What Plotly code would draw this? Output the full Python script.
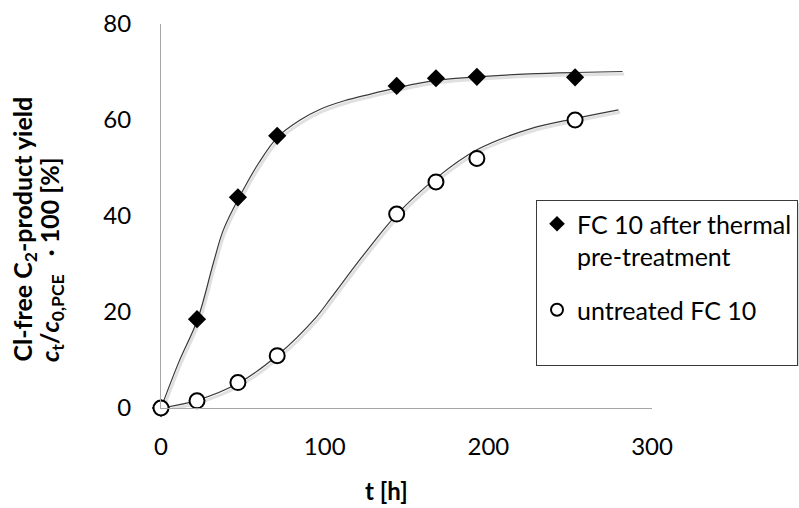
import plotly.graph_objects as go

# measured data points
t_treated = [0, 22, 47, 71, 144, 168, 193, 253]
y_treated = [0, 18.5, 43.9, 56.7, 67.1, 68.7, 69.0, 68.9]
t_untreated = [0, 22, 47, 71, 144, 168, 193, 253]
y_untreated = [0, 1.5, 5.3, 10.9, 40.4, 47.1, 52.0, 60.0]

# fitted curves
fit_t_treated = [0, 10.7, 22.4, 32, 38, 47.8, 60, 71.4, 85, 97, 112, 128, 144, 158, 175, 193, 225, 253, 282]
fit_y_treated = [0, 9.4, 18.5, 30.2, 37.0, 43.9, 51.2, 56.5, 60.0, 62.2, 64.0, 65.4, 66.7, 67.7, 68.5, 69.0, 69.6, 69.9, 70.1]
fit_t_untreated = [0, 22, 47.4, 71.2, 95, 104, 124, 144, 168.5, 193, 225, 253, 279.5]
fit_y_untreated = [0, 1.6, 5.2, 11.0, 19.0, 23.0, 32.0, 40.3, 48.0, 53.8, 58.1, 60.3, 62.1]

x_ticks = [0, 100, 200, 300]
y_ticks = [0, 20, 40, 60, 80]

FONT = "Lato"
L, R, T, B = 161, 147, 24, 100
PW, PH = 799 - L - R, 508 - T - B


def px_x(p):
    return (p - L) / PW


def px_y(p):
    return (508 - B - p) / PH


fig = go.Figure()

for ft, fy in [(fit_t_treated, fit_y_treated), (fit_t_untreated, fit_y_untreated)]:
    fig.add_trace(go.Scatter(x=[v + 1.0 for v in ft], y=[v - 0.5 for v in fy], mode="lines",
                             line=dict(color="rgba(0,0,0,0.12)", width=3, shape="spline"),
                             showlegend=False, hoverinfo="skip"))
    fig.add_trace(go.Scatter(x=ft, y=fy, mode="lines",
                             line=dict(color="#3a3a3a", width=1.2, shape="spline"),
                             showlegend=False, hoverinfo="skip"))

fig.add_trace(go.Scatter(x=t_treated, y=y_treated, mode="markers", cliponaxis=False,
                         name="FC 10 after thermal<br>pre-treatment", legendgroup="a",
                         marker=dict(symbol="diamond", size=14, color="black")))
fig.add_trace(go.Scatter(x=t_untreated, y=y_untreated, mode="markers", cliponaxis=False,
                         name="untreated FC 10<br> ", legendgroup="b",
                         marker=dict(symbol="circle", size=15, color="white",
                                     line=dict(color="black", width=2))))

# soft shadow of the legend box
fig.add_shape(type="rect", xref="paper", yref="paper",
              x0=px_x(540), x1=px_x(830), y0=px_y(366), y1=px_y(203),
              fillcolor="rgba(0,0,0,0.14)", line=dict(width=0), layer="above")

fig.update_layout(
    width=799, height=508,
    margin=dict(l=L, r=R, t=T, b=B, autoexpand=False),
    paper_bgcolor="white", plot_bgcolor="white",
    font=dict(family=FONT, size=24, color="black"),
    showlegend=True,
    legend=dict(x=px_x(536), y=px_y(200), xanchor="left", yanchor="top",
                bgcolor="white", bordercolor="#3a3a3a", borderwidth=1,
                font=dict(family=FONT, size=25, color="black"),
                valign="top", traceorder="grouped", tracegroupgap=18,
                itemsizing="constant"),
    xaxis=dict(range=[0, 300], tickvals=x_ticks, showgrid=False, zeroline=False,
               showline=True, linecolor="#a6a6a6", linewidth=1, ticks="",
               ticklabelstandoff=17, tickfont=dict(size=24)),
    yaxis=dict(range=[0, 80], tickvals=y_ticks, showgrid=False, zeroline=False,
               showline=True, linecolor="#a6a6a6", linewidth=1, ticks="",
               ticklabelstandoff=24, tickfont=dict(size=24)),
    annotations=[
        dict(text="<b>t [h]</b>", xref="paper", yref="paper", x=px_x(386), y=px_y(507),
             xanchor="center", yanchor="bottom", showarrow=False, font=dict(size=24)),
        dict(text="<b>Cl-free C<sub>2</sub>-product yield</b>", xref="paper", yref="paper",
             x=px_x(23), y=px_y(364), xanchor="center", yanchor="bottom", textangle=-90,
             showarrow=False, font=dict(size=25)),
        dict(text="<b><i>c</i><sub>t</sub>/<i>c</i><sub>0,PCE</sub>\u00a0\u00a0\u00a0· 100 [%]</b>",
             xref="paper", yref="paper",
             x=px_x(51), y=px_y(364), xanchor="center", yanchor="bottom", textangle=-90,
             showarrow=False, font=dict(size=25)),
    ],
)

fig.write_html("out.html")
